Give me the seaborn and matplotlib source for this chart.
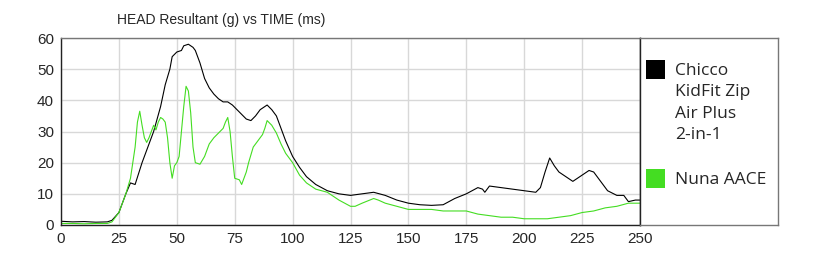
import numpy as np
import pandas as pd
import matplotlib
matplotlib.use("Agg")
import matplotlib.pyplot as plt
import seaborn as sns
from matplotlib.patches import Rectangle

title = "HEAD Resultant (g) vs TIME (ms)"
series_names = ["Chicco\nKidFit Zip\nAir Plus\n2-in-1", "Nuna AACE"]
series_colors = ["#000000", "#44dd22"]

chicco_t = [0, 5, 10, 15, 20, 22, 25, 28, 30, 32, 35, 38, 40, 43, 45, 47, 48, 50, 52, 53, 55,
            57, 58, 60, 62, 64, 66, 68, 70, 72, 74, 76, 78, 80, 82, 84, 86, 88, 89, 91, 93,
            95, 97, 100, 103, 106, 110, 115, 120, 125, 130, 135, 140, 145, 150, 155, 160,
            165, 170, 175, 180, 182, 183, 185, 190, 195, 200, 205, 207, 209, 211, 213, 215,
            218, 221, 224, 228, 230, 233, 236, 240, 243, 245, 248, 250]
chicco_g = [1.2, 1.0, 1.1, 0.9, 1.0, 1.5, 4, 10, 13.5, 13, 20, 26, 30, 38, 45, 50, 54, 55.5,
            56, 57.5, 58, 57, 56, 52, 47, 44, 42, 40.5, 39.5, 39.5, 38.5, 37, 35.5, 34, 33.5,
            35, 37, 38, 38.5, 37, 35, 31, 27, 22, 18.5, 15.5, 13, 11, 10, 9.5, 10, 10.5, 9.5,
            8, 7, 6.5, 6.3, 6.5, 8.5, 10, 12, 11.5, 10.5, 12.5, 12, 11.5, 11, 10.5, 12, 17,
            21.5, 19, 17, 15.5, 14, 15.5, 17.5, 17, 14, 11, 9.5, 9.5, 7.5, 8, 8]

nuna_t = [0, 5, 10, 15, 20, 22, 25, 28, 30, 32, 33, 34, 35, 36, 37, 38, 40, 41, 42, 43, 44,
          45, 46, 47, 48, 49, 50, 51, 52, 53, 54, 55, 56, 57, 58, 60, 62, 64, 66, 68, 70, 71,
          72, 73, 74, 75, 77, 78, 80, 81, 83, 85, 87, 88, 89, 91, 93, 95, 97, 100, 103, 106,
          110, 115, 120, 125, 127, 130, 135, 137, 140, 145, 150, 155, 160, 165, 170, 175,
          180, 185, 190, 195, 200, 205, 210, 215, 220, 225, 230, 235, 240, 245, 250]
nuna_g = [0.5, 0.5, 0.4, 0.5, 0.5, 1, 4, 10, 15, 25, 33, 36.5, 32, 28, 26.5, 28, 32, 30.5,
          33, 34.5, 34, 33, 28, 20, 15, 19, 20, 22, 30, 38, 44.5, 43, 36, 25, 20, 19.5, 22,
          26, 28, 29.5, 31, 33, 34.5, 30, 22, 15, 14.5, 13, 17, 20, 25, 27, 29, 31, 33.5, 32,
          29.5, 26, 23, 20, 16, 13.5, 11.5, 10.5, 8, 6, 6, 7, 8.5, 8, 7, 6, 5, 5, 5, 4.5,
          4.5, 4.5, 3.5, 3, 2.5, 2.5, 2, 2, 2, 2.5, 3, 4, 4.5, 5.5, 6, 7, 7]

df = pd.concat([
    pd.DataFrame({"t": chicco_t, "g": chicco_g, "s": series_names[0]}),
    pd.DataFrame({"t": nuna_t, "g": nuna_g, "s": series_names[1]}),
])

sns.set_style("white")
plt.rcParams["font.family"] = ["Liberation Sans", "DejaVu Sans"]

W, H = 830, 269
fig = plt.figure(figsize=(W / 100, H / 100), dpi=100)
ax_l, ax_r, ax_t, ax_b = 61, 640, 38, 225
ax = fig.add_axes([ax_l / W, 1 - ax_b / H, (ax_r - ax_l) / W, (ax_b - ax_t) / H])

sns.lineplot(data=df, x="t", y="g", hue="s", palette=series_colors, ax=ax,
             linewidth=0.8, legend=False, estimator=None, sort=False)

ax.set_xlim(0, 250)
ax.set_ylim(0, 60)
ax.set_xticks(np.arange(0, 251, 25))
ax.set_yticks(np.arange(0, 61, 10))
ax.set_xticks(np.arange(0, 251, 5), minor=True)
ax.set_yticks(np.arange(0, 61, 5), minor=True)
ax.grid(True, which="major", color="#d8d8d8", linewidth=1.0)
ax.set_axisbelow(True)
ax.tick_params(axis="both", which="major", direction="inout", length=8, width=0.8,
               labelsize=11, color="#333333", pad=1)
ax.tick_params(axis="both", which="minor", direction="inout", length=6, width=0.8,
               color="#333333")
ax.tick_params(axis="y", which="both", right=False)
ax.tick_params(axis="x", which="both", top=False)
ax.set_xlabel("")
ax.set_ylabel("")
for side in ["left", "bottom", "right"]:
    ax.spines[side].set_color("#222222")
    ax.spines[side].set_linewidth(1.0)
ax.spines["top"].set_color("#777777")
ax.spines["top"].set_linewidth(1.0)

fig.text(221 / W, 1 - 20 / H, title, ha="center", va="center", fontsize=10)

# legend panel
lx0, lx1 = 640, 778
lg = fig.add_axes([lx0 / W, 1 - ax_b / H, (lx1 - lx0) / W, (ax_b - ax_t) / H])
lg.set_xlim(lx0, lx1)
lg.set_ylim(ax_b, ax_t)
lg.set_xticks([])
lg.set_yticks([])
for side in ["top", "right", "bottom"]:
    lg.spines[side].set_color("#777777")
    lg.spines[side].set_linewidth(1.0)
lg.spines["left"].set_color("#222222")
lg.spines["left"].set_linewidth(1.0)
legend_rows = [60, 169]
for name, col, y0 in zip(series_names, series_colors, legend_rows):
    lg.add_patch(Rectangle((646, y0), 19, 19, color=col, linewidth=0))
    lg.text(675, y0 + 3, name, ha="left", va="top", fontsize=12.5,
            family=["Open Sans", "DejaVu Sans"], linespacing=1.45)

fig.savefig("out.png", dpi=100)
